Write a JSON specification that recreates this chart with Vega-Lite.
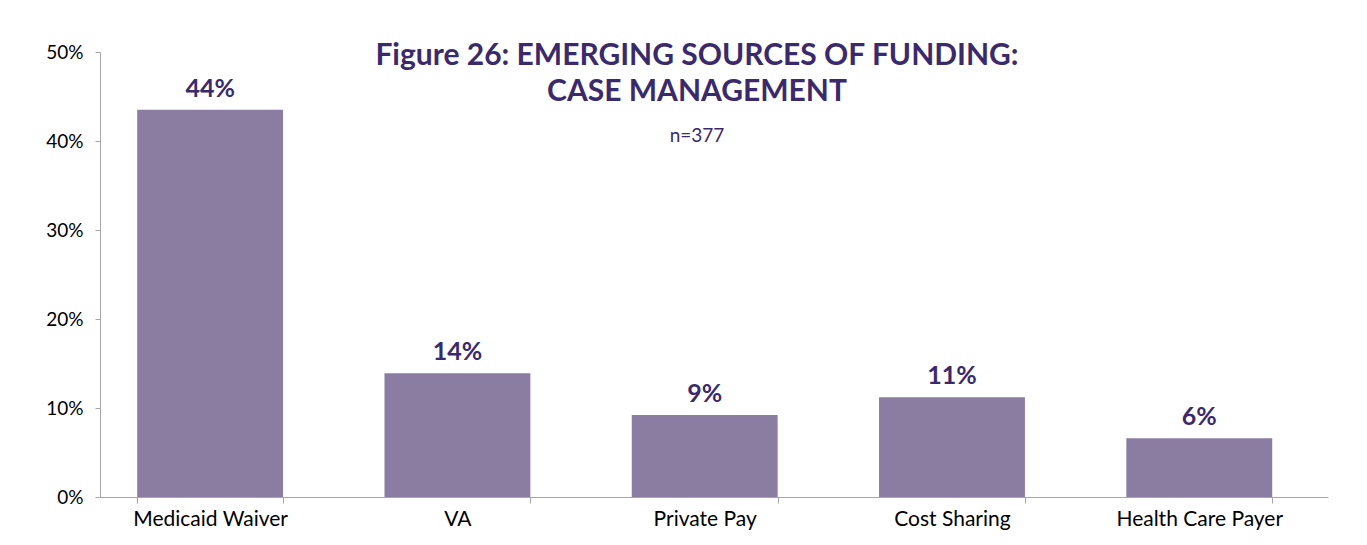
{
  "$schema": "https://vega.github.io/schema/vega-lite/v6.json",
  "width": 1228,
  "height": 445,
  "autosize": {"type": "none"},
  "padding": {"left": 100, "top": 52, "right": 39, "bottom": 48},
  "background": "white",
  "title": {
    "text": ["Figure 26: EMERGING SOURCES OF FUNDING:", "CASE MANAGEMENT"],
    "subtitle": "n=377",
    "anchor": "middle",
    "frame": "group",
    "orient": "top",
    "offset": -103,
    "dx": -17,
    "font": "Lato",
    "fontSize": 30,
    "fontWeight": "bold",
    "color": "#3b2a6b",
    "lineHeight": 36,
    "subtitleFont": "Lato",
    "subtitleFontSize": 19,
    "subtitleColor": "#3b2a6b",
    "subtitlePadding": 20
  },
  "data": {
    "values": [
      {"source": "Medicaid Waiver", "pct": 43.5, "label": "44%"},
      {"source": "VA", "pct": 13.9, "label": "14%"},
      {"source": "Private Pay", "pct": 9.2, "label": "9%"},
      {"source": "Cost Sharing", "pct": 11.2, "label": "11%"},
      {"source": "Health Care Payer", "pct": 6.6, "label": "6%"}
    ]
  },
  "encoding": {
    "x": {
      "field": "source",
      "type": "nominal",
      "sort": null,
      "scale": {"paddingInner": 0.41, "paddingOuter": 0.188, "align": 0.4},
      "axis": {
        "title": null,
        "labelAngle": 0,
        "labelFont": "Lato",
        "labelFontSize": 21,
        "labelColor": "#000000",
        "labelPadding": 5,
        "tickBand": "extent",
        "tickSize": 6,
        "tickColor": "#a6a6a6",
        "domainColor": "#a6a6a6",
        "grid": false
      }
    },
    "y": {
      "field": "pct",
      "type": "quantitative",
      "scale": {"domain": [0, 50]},
      "axis": {
        "title": null,
        "values": [0, 10, 20, 30, 40, 50],
        "labelExpr": "datum.value + '%'",
        "labelFont": "Lato",
        "labelFontSize": 19,
        "labelColor": "#000000",
        "labelPadding": 12,
        "tickSize": 5,
        "tickColor": "#a6a6a6",
        "domainColor": "#a6a6a6",
        "grid": false
      }
    }
  },
  "layer": [
    {"mark": {"type": "bar", "color": "#8b7da1"}},
    {
      "mark": {"type": "text", "baseline": "bottom", "dy": -8, "font": "Lato", "fontSize": 25, "fontWeight": "bold", "color": "#3b2a6b"},
      "encoding": {"text": {"field": "label"}}
    }
  ],
  "config": {"view": {"stroke": null}}
}
